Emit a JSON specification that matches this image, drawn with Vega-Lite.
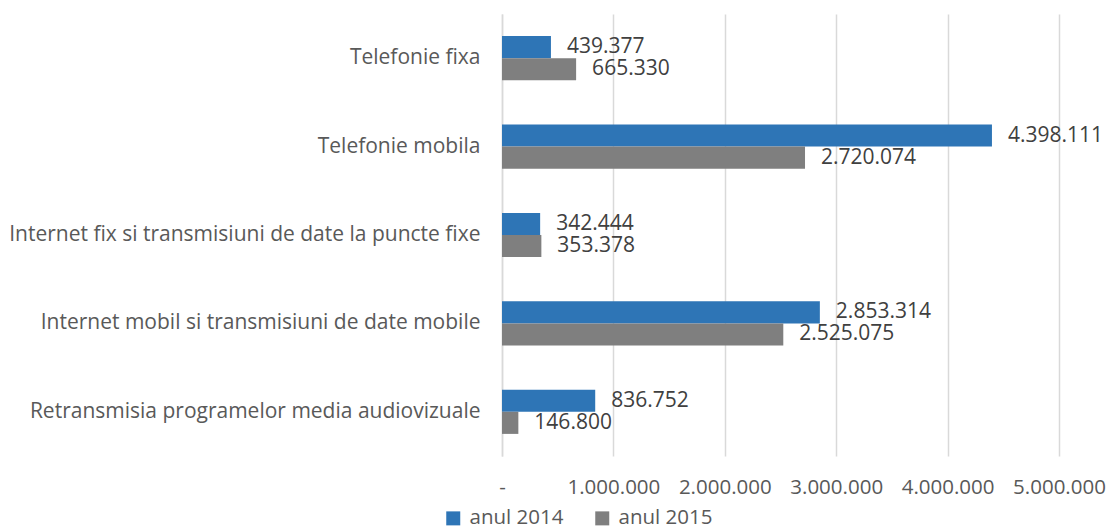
{
  "$schema": "https://vega.github.io/schema/vega-lite/v6.json",
  "width": 557,
  "height": 442,
  "autosize": {"type": "none"},
  "padding": {"left": 502, "top": 14, "right": 50, "bottom": 75},
  "background": "white",
  "config": {
    "locale": {"number": {"decimal": ",", "thousands": ".", "grouping": [3], "currency": ["", ""]}},
    "font": "Open Sans",
    "view": {"stroke": null}
  },
  "data": {
    "values": [
      {"cat": "Telefonie fixa", "series": "anul 2014", "value": 439377},
      {"cat": "Telefonie fixa", "series": "anul 2015", "value": 665330},
      {"cat": "Telefonie mobila", "series": "anul 2014", "value": 4398111},
      {"cat": "Telefonie mobila", "series": "anul 2015", "value": 2720074},
      {"cat": "Internet fix si transmisiuni de date la puncte fixe", "series": "anul 2014", "value": 342444},
      {"cat": "Internet fix si transmisiuni de date la puncte fixe", "series": "anul 2015", "value": 353378},
      {"cat": "Internet mobil si transmisiuni de date mobile", "series": "anul 2014", "value": 2853314},
      {"cat": "Internet mobil si transmisiuni de date mobile", "series": "anul 2015", "value": 2525075},
      {"cat": "Retransmisia programelor media audiovizuale", "series": "anul 2014", "value": 836752},
      {"cat": "Retransmisia programelor media audiovizuale", "series": "anul 2015", "value": 146800}
    ]
  },
  "encoding": {
    "y": {
      "field": "cat", "type": "nominal", "sort": null,
      "scale": {"paddingInner": 0.5, "paddingOuter": 0.25},
      "axis": {"title": null, "ticks": false, "domain": true, "domainColor": "#d9d9d9", "domainWidth": 1.5, "labelFontSize": 21, "labelColor": "#595959", "labelPadding": 22, "labelLimit": 600}
    },
    "yOffset": {"field": "series", "type": "nominal", "scale": {"paddingInner": 0}},
    "x": {
      "field": "value", "type": "quantitative",
      "scale": {"domain": [0, 5000000], "nice": false},
      "axis": {"title": null, "ticks": false, "domain": false, "gridColor": "#d9d9d9", "gridWidth": 1.5, "values": [0, 1000000, 2000000, 3000000, 4000000, 5000000], "labelExpr": "datum.value == 0 ? '-' : format(datum.value, ',d')", "labelOverlap": false, "labelFontSize": 20.5, "labelColor": "#595959", "labelPadding": 21, "labelFlush": false}
    }
  },
  "layer": [
    {
      "mark": {"type": "bar"},
      "encoding": {
        "color": {
          "field": "series", "type": "nominal",
          "scale": {"range": ["#2E75B6", "#7F7F7F"]},
          "legend": {"title": null, "orient": "none", "legendX": -59, "legendY": 494, "direction": "horizontal", "symbolType": "square", "symbolSize": 196, "symbolStrokeWidth": 0, "labelFontSize": 20.5, "labelColor": "#595959", "columnPadding": 28, "labelOffset": 6}
        }
      }
    },
    {
      "mark": {"type": "text", "align": "left", "baseline": "middle", "dx": 16, "fontSize": 21, "color": "#404040"},
      "encoding": {"text": {"field": "value", "type": "quantitative", "format": ",d"}}
    }
  ]
}
